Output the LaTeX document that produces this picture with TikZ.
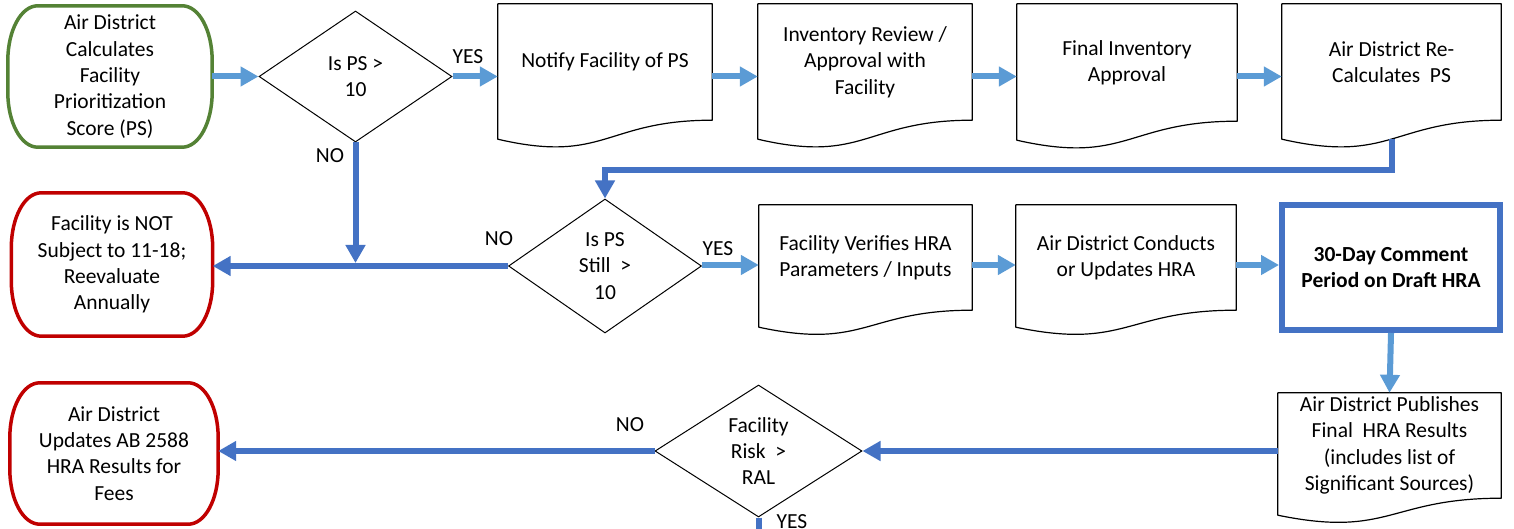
\documentclass[tikz,border=0pt]{standalone}
\usepackage{fontspec}
\setmainfont{Carlito}
\usetikzlibrary{arrows.meta,calc,shapes.geometric}
\definecolor{lblue}{HTML}{5B9BD5}
\definecolor{dblue}{HTML}{4472C4}
\definecolor{tgreen}{HTML}{548235}
\definecolor{tred}{HTML}{C00000}
\tikzset{
  base/.style={font=\fontsize{21.5}{26.3}\selectfont, align=center, inner sep=0pt},
  docnode/.style={base},
  docline/.style={draw=black, line width=1.2pt, line join=round},
  termnode/.style={base},
  termline/.style={line width=3.5pt},
  decision/.style={base, diamond, draw=black, line width=1pt},
  bluebox/.style={base, draw=dblue, line width=6pt, font=\fontsize{21.5}{26.3}\selectfont\bfseries},
  larrow/.style={draw=lblue, line width=6pt, -{Triangle[length=18pt,width=19pt]}},
  darrow/.style={draw=dblue, line width=6pt, -{Triangle[length=18pt,width=19pt]}},
  dline/.style={draw=dblue, line width=6pt},
  lbl/.style={base}
}
\newcommand\docdraw[3]{\draw[docline] (#1.north west) -- (#1.north east) -- (#1.south east)
  .. controls (#1.south) and ($(#1.south)+(0,#2)$) .. ($(#1.south west)+(0,#3)$) -- cycle;}
\newcommand\termdraw[2]{\draw[termline,#2]
  ($(#1.north west)+(30,0)$) -- ($(#1.north east)+(-30,0)$)
  .. controls ($(#1.north east)+(-13,0)$) and ($(#1.north east)+(0,25)$) .. ($(#1.north east)+(0,55)$)
  -- ($(#1.south east)+(0,-55)$)
  .. controls ($(#1.south east)+(0,-25)$) and ($(#1.south east)+(-13,0)$) .. ($(#1.south east)+(-30,0)$)
  -- ($(#1.south west)+(30,0)$)
  .. controls ($(#1.south west)+(13,0)$) and ($(#1.south west)+(0,-25)$) .. ($(#1.south west)+(0,-55)$)
  -- ($(#1.north west)+(0,55)$)
  .. controls ($(#1.north west)+(0,25)$) and ($(#1.north west)+(13,0)$) .. ($(#1.north west)+(30,0)$) -- cycle;}
\begin{document}
\begin{tikzpicture}[x=1pt,y=-1pt]
\useasboundingbox[fill=white] (0,0) rectangle (1514,529);

% top row
\node[termnode, minimum width=204pt, minimum height=141pt] (t0) at (110,76.5)
  {Air District\\Calculates\\Facility\\Prioritization\\Score (PS)};
\termdraw{t0}{tgreen}
\node[decision, minimum width=193pt, minimum height=131pt, shape aspect=1.47] (dia1) at (355.5,76.5) {Is PS >\\10};
\node[docnode, minimum width=214pt, minimum height=116pt] (d1) at (605,62) {Notify Facility of PS};
\docdraw{d1}{44}{19}
\node[docnode, minimum width=214pt, minimum height=116pt] (d2) at (865,62) {Inventory Review /\\Approval with\\Facility};
\docdraw{d2}{44}{19}
\node[docnode, minimum width=220pt, minimum height=117pt] (d3) at (1127,62.5) {Final Inventory\\Approval};
\docdraw{d3}{44}{19}
\node[docnode, minimum width=219pt, minimum height=116pt] (d4) at (1391.5,62) {Air District Re-\\Calculates\ \ PS};
\docdraw{d4}{44}{19}

% middle row
\node[termnode, minimum width=201pt, minimum height=143pt] (t1) at (112,264.5)
  {Facility is NOT\\Subject to 11-18;\\Reevaluate\\Annually};
\termdraw{t1}{tred}
\node[decision, minimum width=193pt, minimum height=134pt, shape aspect=1.44] (dia2) at (605,266) {Is PS\\Still\ \ >\\10};
\node[docnode, minimum width=213pt, minimum height=105pt] (d5) at (865.5,257.5) {Facility Verifies HRA\\Parameters / Inputs};
\docdraw{d5}{40}{17}
\node[docnode, minimum width=220pt, minimum height=105pt] (d6) at (1126,257.5) {Air District Conducts\\or Updates HRA};
\docdraw{d6}{40}{17}
\node[bluebox, minimum width=218pt, minimum height=125pt] (box) at (1391,267.5) {30-Day Comment\\Period on Draft HRA};

% bottom row
\node[docnode, minimum width=223pt, minimum height=105pt] (d7) at (1389.5,445.5)
  {Air District Publishes\\Final\ \ HRA Results\\(includes list of\\Significant Sources)};
\docdraw{d7}{40}{17}
\node[decision, minimum width=207pt, minimum height=132pt, shape aspect=1.59] (dia3) at (758.5,451) {Facility\\Risk\ \ >\\RAL};
\node[termnode, minimum width=208pt, minimum height=141pt] (t2) at (114,453.5)
  {Air District\\Updates AB 2588\\HRA Results for\\Fees};
\termdraw{t2}{tred}

% connectors
\draw[larrow] (t0.east |- dia1.west) -- (dia1.west);
\draw[larrow] (dia1.east) -- (d1.west |- dia1.east);
\draw[larrow] (d1.east |- dia1.east) -- (d2.west |- dia1.east);
\draw[larrow] (d2.east |- dia1.east) -- (d3.west |- dia1.east);
\draw[larrow] (d3.east |- dia1.east) -- (d4.west |- dia1.east);

\coordinate (d4b) at ($(d4.south)+(0,19)$);
\coordinate (bend) at (605,170);
\draw[darrow] (d4b) |- (bend) -- (dia2.north);

\coordinate (j) at (dia1.south |- dia2.west);
\draw[darrow] (dia2.west) -- (t1.east |- dia2.west);
\draw[darrow] (dia1.south) -- ([yshift=3pt]j);

\coordinate (r2) at (0,265);
\draw[larrow] (dia2.east |- r2) -- (d5.west |- r2);
\draw[larrow] (d5.east |- r2) -- (d6.west |- r2);
\draw[larrow] (d6.east |- r2) -- (box.west |- r2);
\draw[larrow] (box.south) -- (d7.north);

\draw[darrow] (d7.west |- dia3.east) -- (dia3.east);
\draw[darrow] (dia3.west) -- (t2.east |- dia3.west);
\coordinate (exit) at (758.5,529);
\draw[dline] (dia3.south) -- (exit);

% labels
\node[lbl] (yes1) at (468,57) {YES};
\node[lbl] (no1) at (330,156) {NO};
\node[lbl] (no2) at (499,239) {NO};
\node[lbl] (yes2) at (718,249) {YES};
\node[lbl] (no3) at (630,425) {NO};
\node[lbl] (yes3) at (792,522) {YES};
\end{tikzpicture}
\end{document}
